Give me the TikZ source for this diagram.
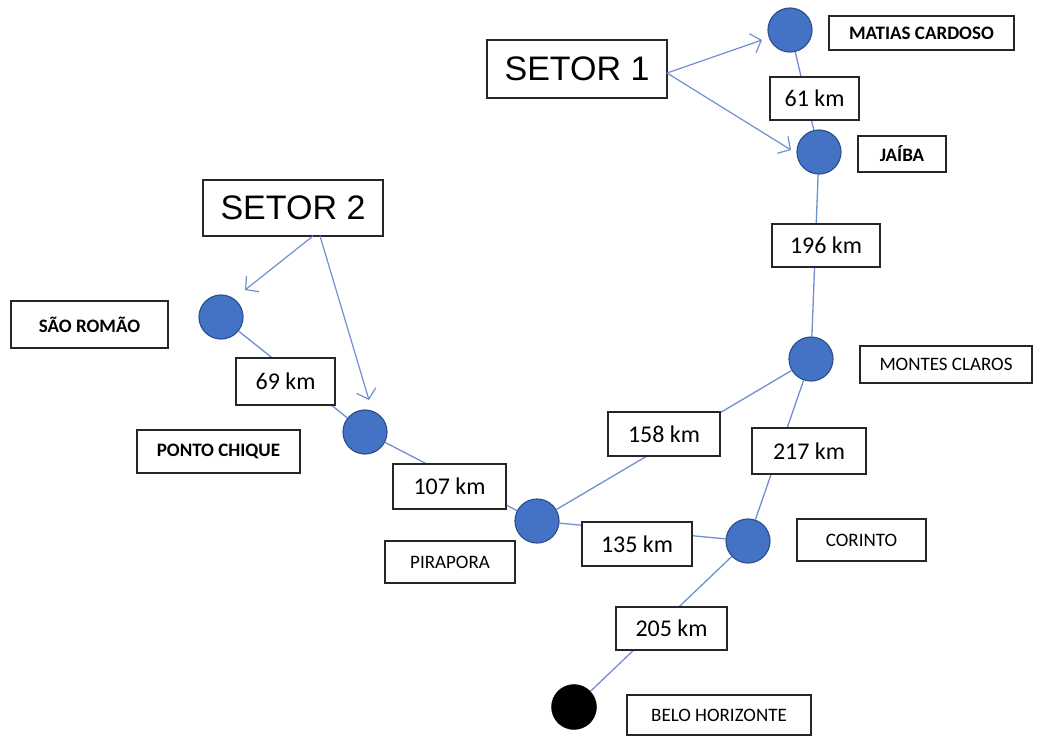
\documentclass[tikz,border=0pt]{standalone}
\usepackage{fontspec}
\setmainfont{Carlito}
\newfontfamily\arialf{Liberation Sans}
\usetikzlibrary{arrows.meta}
\definecolor{nodeblue}{HTML}{4472C4}
\definecolor{nodeedge}{HTML}{2F528F}
\definecolor{linkblue}{HTML}{6F8FCF}
\begin{document}
\begin{tikzpicture}[x=1pt,y=-1pt,
  city/.style={circle,fill=nodeblue,draw=nodeedge,line width=1.2pt,minimum size=44pt,inner sep=0pt},
  hub/.style={circle,fill=black,draw=black,minimum size=45pt,inner sep=0pt},
  link/.style={draw=linkblue,line width=1.3pt},
  pointer/.style={draw=linkblue,line width=1.2pt,-{Straight Barb[length=9pt,width=20pt,line width=1.2pt]}},
  lbox/.style={draw=black!85,line width=1.2pt,fill=white,inner sep=0pt},
  kmbox/.style={lbox,font=\fontsize{24}{26}\selectfont},
  namebox/.style={lbox,font=\fontsize{19}{21}\selectfont},
  boldname/.style={namebox,font=\fontsize{19}{21}\selectfont\bfseries},
  sectorbox/.style={lbox,font=\arialf\fontsize{34}{38}\selectfont}]
\useasboundingbox (0,0) rectangle (1047,737);
% cities
\node[city] (mc) at (790,30) {};
\node[city] (ja) at (819,152) {};
\node[city] (mo) at (811,359) {};
\node[city] (sr) at (221,317) {};
\node[city] (pc) at (365,432) {};
\node[city] (pi) at (537,521) {};
\node[city] (co) at (748,541) {};
\node[hub] (bh) at (574,707) {};
% links
\draw[link] (mc) -- (ja);
\draw[link] (ja) -- (mo);
\draw[link] (mo) -- (pi);
\draw[link] (mo) -- (co);
\draw[link] (pi) -- (co);
\draw[link] (co) -- (bh);
\draw[link] (pi) -- (pc);
\draw[link] (pc) -- (sr);
% distance boxes
\node[kmbox,minimum width=89pt,minimum height=43pt] (d61) at (814.5,98.5) {61 km};
\node[kmbox,minimum width=108pt,minimum height=43pt] (d196) at (826,245.5) {196 km};
\node[kmbox,minimum width=112pt,minimum height=44pt] (d158) at (664,434) {158 km};
\node[kmbox,minimum width=114pt,minimum height=46pt] (d217) at (809,451) {217 km};
\node[kmbox,minimum width=110pt,minimum height=44pt] (d135) at (637,544) {135 km};
\node[kmbox,minimum width=113pt,minimum height=45pt] (d107) at (449.5,486.5) {107 km};
\node[kmbox,minimum width=99pt,minimum height=47pt] (d69) at (285.5,381.5) {69 km};
\node[kmbox,minimum width=111pt,minimum height=43pt] (d205) at (671.5,628.5) {205 km};
% name boxes
\node[boldname,minimum width=185pt,minimum height=34pt] (nmc) at (921.5,33) {MATIAS CARDOSO};
\node[boldname,minimum width=88pt,minimum height=36pt] (nja) at (902,154) {JAÍBA};
\node[namebox,minimum width=172pt,minimum height=37pt] (nmo) at (946,364.5) {MONTES CLAROS};
\node[namebox,minimum width=129pt,minimum height=42pt] (nco) at (861.5,540) {CORINTO};
\node[namebox,minimum width=130pt,minimum height=42pt] (npi) at (450,562) {PIRAPORA};
\node[boldname,minimum width=163pt,minimum height=43pt] (npc) at (218.5,451.5) {PONTO CHIQUE};
\node[boldname,minimum width=157pt,minimum height=47pt] (nsr) at (89.5,324.5) {SÃO ROMÃO};
\node[namebox,minimum width=184pt,minimum height=40pt] (nbh) at (719,715) {BELO HORIZONTE};
% sectors
\node[sectorbox,minimum width=180pt,minimum height=58pt] (s1) at (577,69) {SETOR 1};
\node[sectorbox,minimum width=180pt,minimum height=56pt] (s2) at (293,208) {SETOR 2};
\coordinate (s1a) at (667,73);
\coordinate (t1) at (762,40);
\coordinate (t2) at (791,150);
\coordinate (s2a) at (313,236);
\coordinate (s2b) at (320,236);
\coordinate (t3) at (245,290);
\coordinate (t4) at (369,400);
\draw[pointer] (s1a) -- (t1);
\draw[pointer] (s1a) -- (t2);
\draw[pointer] (s2a) -- (t3);
\draw[pointer] (s2b) -- (t4);
\end{tikzpicture}
\end{document}
